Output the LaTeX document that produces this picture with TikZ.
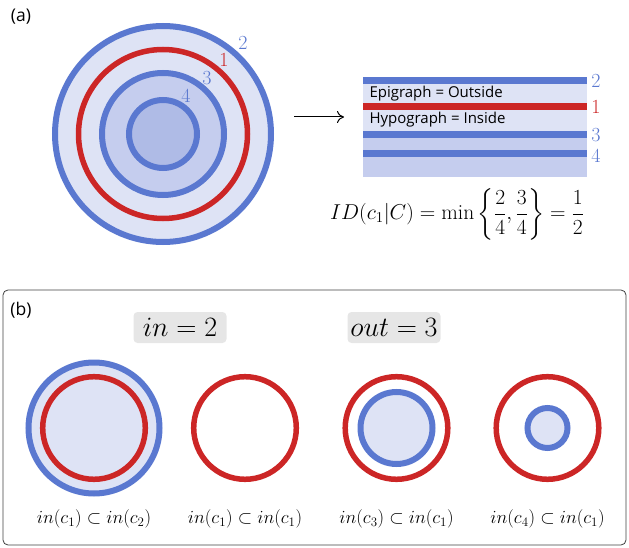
\RequirePackage{fix-cm}
\documentclass[tikz,border=0pt]{standalone}
\usepackage{amsmath, amssymb}
\usepackage{fontspec}
\setsansfont{Open Sans}
\usetikzlibrary{calc, positioning, arrows.meta}

\definecolor{ringblue}{HTML}{5A78D0}
\definecolor{ringred}{HTML}{CC2626}
\definecolor{fillA}{HTML}{DEE3F5}
\definecolor{fillB}{HTML}{C5CDEE}
\definecolor{fillC}{HTML}{AFBBE6}
\definecolor{tagbg}{HTML}{E6E6E6}

\begin{document}
\begin{tikzpicture}[x=1pt, y=-1pt,
        bluering/.style={draw=ringblue, line width=6pt},
        redring/.style={draw=ringred, line width=5.5pt},
        panel/.style={font=\sffamily\fontsize{17.5}{20}\selectfont},
        lvl/.style={font=\fontsize{20}{22}\selectfont},
        tag/.style={fill=tagbg, rounded corners=4pt, minimum width=93pt, minimum height=31pt,
            inner sep=0pt, font=\fontsize{28}{30}\selectfont}]
                \useasboundingbox (0,0) rectangle (629,548);
                \node[panel] (tagA) at (21,17) {(a)};
                \coordinate (top) at (163,134);
                \draw[bluering, fill=fillA] (top) circle (108);
                \draw[redring] (top) circle (84.5);
                \draw[bluering, fill=fillB] (top) circle (61);
                \draw[bluering, fill=fillC] (top) circle (34);
                \node[lvl, text=ringblue] (c2) at (243,43) {$2$};
                \node[lvl, text=ringred] (c1) at (224,60) {$1$};
                \node[lvl, text=ringblue] (c3) at (207,78) {$3$};
                \node[lvl, text=ringblue] (c4) at (186,96) {$4$};
                \coordinate (arrS) at (294,117);
                \coordinate (arrE) at (344,117);
                \draw[-{To[length=7pt, width=12pt]}, line width=1pt] (arrS) -- (arrE);
                \fill[fillA] (363,77) rectangle (587,137);
                \fill[fillB] (363,137) rectangle (587,177);
                \foreach \y/\c in {80.5/ringblue, 106.5/ringred, 134.5/ringblue, 153.5/ringblue}
                    \fill[\c] (363,\y-3.3) rectangle (587,\y+3.3);
                \node[anchor=west, font=\sffamily\fontsize{15}{17}\selectfont] (epi) at (366,94) {Epigraph = Outside};
                \node[anchor=west, font=\sffamily\fontsize{15}{17}\selectfont] (hypo) at (366,119.5) {Hypograph = Inside};
                \node[lvl, text=ringblue] (s2) at (596,81) {$2$};
                \node[lvl, text=ringred] (s1) at (596,107) {$1$};
                \node[lvl, text=ringblue] (s3) at (596,135) {$3$};
                \node[lvl, text=ringblue] (s4) at (596,156) {$4$};
                \node[font=\fontsize{21.5}{26}\selectfont] (idform) at (457,214)
                    {$\displaystyle ID(c_1|C)=\min\left\{\frac{2}{4},\frac{3}{4}\right\}=\frac{1}{2}$};
                \draw[rounded corners=5pt, line width=0.8pt, draw=black!75] (3,290) rectangle (626,545);
                \node[panel] (tagB) at (21,310) {(b)};
                \node[tag] (inTag) at (180,327.5) {$in=2$};
                \node[tag] (outTag) at (394,327.5) {$out=3$};
                \draw[bluering, fill=fillA] (94,428) circle (65.5);
                \foreach \x in {94, 245, 396.5, 547.5}
                    \draw[redring] (\x,428) circle (51.3);
                \draw[bluering, fill=fillA] (396.5,428) circle (36);
                \draw[bluering, fill=fillA] (547.5,428) circle (20);
                \foreach \x/\a/\b [count=\i] in {94/1/2, 245/1/1, 396.5/3/1, 547.5/4/1}
                    \node[font=\fontsize{18.5}{22}\selectfont] (sub\i) at (\x,519) {$in(c_\a)\subset in(c_\b)$};
            \end{tikzpicture}
\end{document}
